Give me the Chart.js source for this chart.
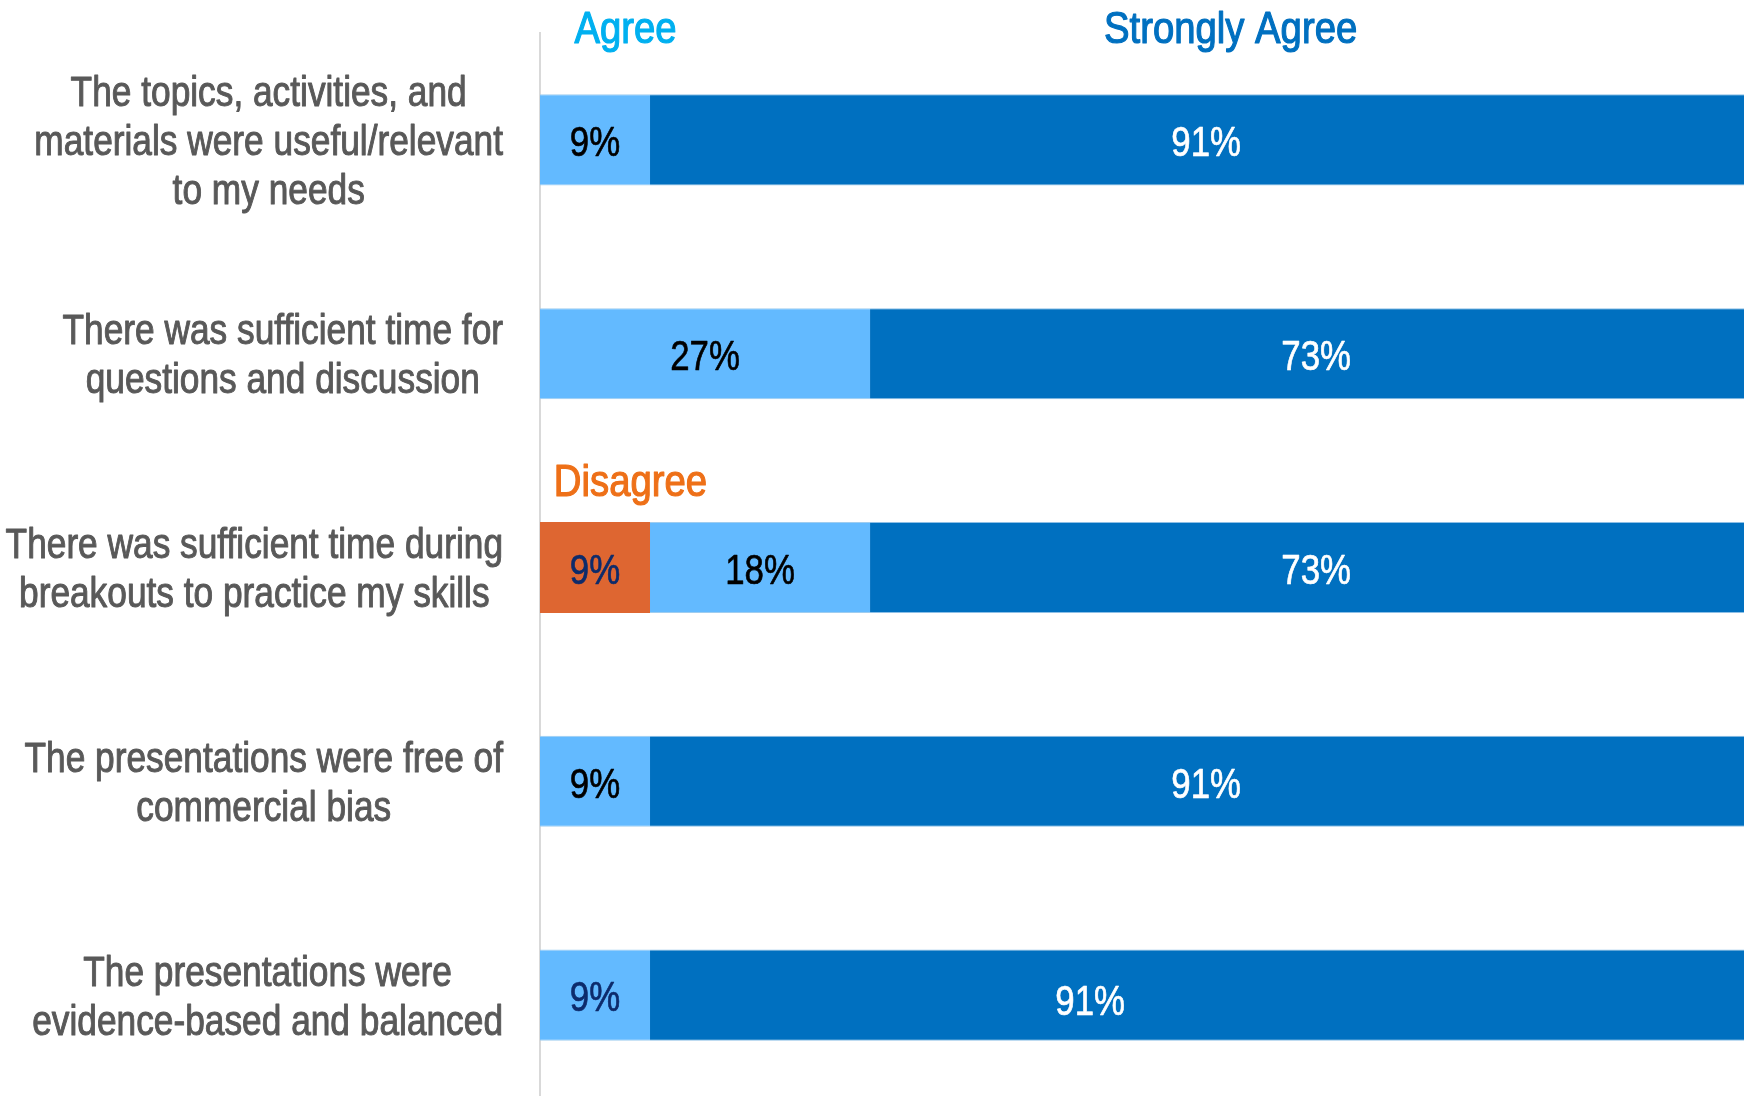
<!DOCTYPE html>
<html>
<head>
<meta charset="utf-8">
<script src="https://cdn.jsdelivr.net/npm/chart.js@4.4.1/dist/chart.umd.min.js"></script>
<style>
  html, body { margin: 0; padding: 0; background: #fff; overflow: hidden; }
  #wrap { position: relative; width: 1744px; height: 1102px; }
</style>
</head>
<body>
<div id="wrap"><canvas id="surveyChart"></canvas></div>
<script>
// ======= Survey data =======
const statements = [
  ['The topics, activities, and', 'materials were useful/relevant', 'to my needs'],
  ['There was sufficient time for', 'questions and discussion'],
  ['There was sufficient time during', 'breakouts to practice my skills'],
  ['The presentations were free of', 'commercial bias'],
  ['The presentations were', 'evidence-based and balanced']
];
const seriesNames = ['Disagree', 'Agree', 'Strongly Agree'];
const disagree = [0, 0, 9, 0, 0];
const agree = [9, 27, 18, 9, 9];
const stronglyAgree = [91, 73, 73, 91, 91];

const FONT = "'Liberation Sans', Arial, sans-serif";
const CAP = 0.716; // cap height of the font, in em

// condensed, slightly heavier text: squeeze horizontally, then fill + thin stroke
function narrowText(ctx, text, x, y, sx, weight) {
  ctx.save();
  ctx.translate(x, y);
  ctx.scale(sx, 1);
  ctx.fillText(text, 0, 0);
  if (weight) {
    ctx.strokeStyle = ctx.fillStyle;
    ctx.lineWidth = weight;
    ctx.lineJoin = 'round';
    ctx.strokeText(text, 0, 0);
  }
  ctx.restore();
}

// ======= Labels drawn on top of the bars =======
const surveyLabels = {
  id: 'surveyLabels',
  afterDatasetsDraw(chart) {
    const ctx = chart.ctx;
    const xs = chart.scales.x;
    const ys = chart.scales.y;
    ctx.save();
    ctx.textAlign = 'center';
    ctx.textBaseline = 'alphabetic';

    // statements: lines centred inside a block that sits right against the axis
    const catSize = 42, catSx = 0.84;
    ctx.font = catSize + 'px ' + FONT;
    ctx.fillStyle = '#595959';
    statements.forEach((lines, i) => {
      const blockW = Math.max(...lines.map(l => ctx.measureText(l).width)) * catSx;
      const cx = chart.chartArea.left - 37 - blockW / 2;
      const cy = ys.getPixelForValue(i);
      lines.forEach((line, j) => {
        const ly = cy + (j - (lines.length - 1) / 2) * 49 + catSize * CAP / 2;
        narrowText(ctx, line, cx, ly, catSx, 1);
      });
    });

    // percentages inside each segment
    const valSize = 43;
    ctx.font = valSize + 'px ' + FONT;
    chart.data.datasets.forEach((ds, d) => {
      const meta = chart.getDatasetMeta(d);
      meta.data.forEach((bar, i) => {
        const v = ds.data[i];
        if (!v) return;
        const p = bar.getProps(['x', 'y', 'base'], true);
        const shift = (ds.labelShift && ds.labelShift[i]) || [0, 0];
        ctx.fillStyle = ds.valueColors[i];
        narrowText(ctx, v + '%', (p.x + p.base) / 2 + shift[0],
          p.y + valSize * CAP / 2 + 1 + shift[1], 0.81, 0.7);
      });
    });

    // series names above the rows
    const headSize = 44;
    ctx.font = headSize + 'px ' + FONT;
    const heads = [
      { text: seriesNames[1], color: '#00b0f0', row: 0, at: 7, dy: -113 },
      { text: seriesNames[2], color: '#0070c0', row: 0, at: 56.5, dy: -113 },
      { text: seriesNames[0], color: '#ee7018', row: 2, at: 7.4, dy: -87 }
    ];
    heads.forEach(h => {
      ctx.fillStyle = h.color;
      narrowText(ctx, h.text, xs.getPixelForValue(h.at),
        ys.getPixelForValue(h.row) + h.dy + headSize * CAP / 2, 0.87, 1.2);
    });
    ctx.restore();
  }
};

// ======= Chart.js stacked bar chart =======
const ctx = document.getElementById('surveyChart').getContext('2d');
new Chart(ctx, {
  type: 'bar',
  data: {
    labels: statements,
    datasets: [
      {
        label: seriesNames[0],
        data: disagree,
        backgroundColor: '#de6631',
        borderWidth: 0,
        valueColors: ['#0d2b6b', '#0d2b6b', '#0d2b6b', '#0d2b6b', '#0d2b6b']
      },
      {
        label: seriesNames[1],
        data: agree,
        backgroundColor: '#63baff',
        borderColor: '#9fcdf0',
        borderWidth: { top: 1, bottom: 1, left: 0, right: 0 },
        borderSkipped: false,
        valueColors: ['#000000', '#000000', '#000000', '#000000', '#0d2b6b']
      },
      {
        label: seriesNames[2],
        data: stronglyAgree,
        backgroundColor: '#0070c0',
        borderColor: '#8dbfe6',
        borderWidth: { top: 1, bottom: 1, left: 0, right: 0 },
        borderSkipped: false,
        valueColors: ['#ffffff', '#ffffff', '#ffffff', '#ffffff', '#ffffff'],
        labelShift: { 4: [-116, 4] }
      }
    ]
  },
  options: {
    indexAxis: 'y',
    responsive: true,
    maintainAspectRatio: false,
    animation: false,
    categoryPercentage: 1,
    barPercentage: 0.426,
    layout: { padding: { top: 33, right: 0, bottom: 0, left: 0 } },
    scales: {
      x: { stacked: true, min: 0, max: 98.5, display: false },
      y: {
        stacked: true,
        ticks: { display: false },
        grid: { display: false, drawTicks: false },
        border: { display: true, color: '#d9d9d9', width: 2 },
        afterFit(scale) { scale.width = 540; }
      }
    },
    plugins: {
      legend: { display: false },
      tooltip: { enabled: false }
    }
  },
  plugins: [surveyLabels]
});
</script>
</body>
</html>
